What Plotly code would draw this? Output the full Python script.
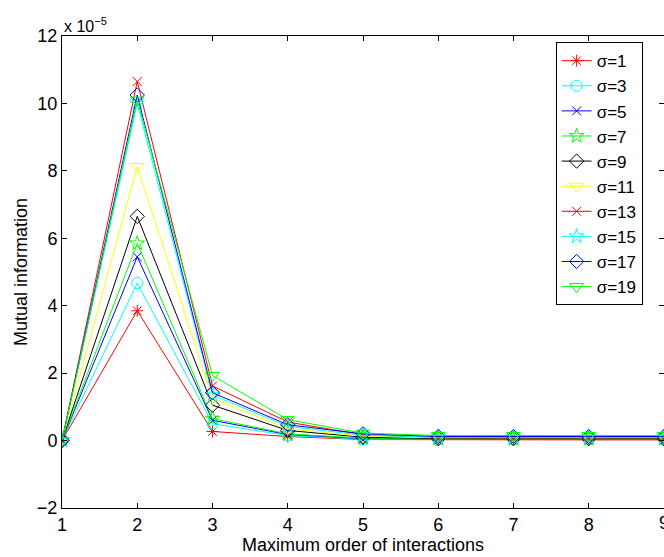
import plotly.graph_objects as go

orders = [1, 2, 3, 4, 5, 6, 7, 8, 9]
tick_labels = ["1", "2", "3", "4", "5", "6", "7", "8", "9"]
sigma_labels = ["σ=1", "σ=3", "σ=5", "σ=7", "σ=9", "σ=11", "σ=13", "σ=15", "σ=17", "σ=19"]

# Mutual information values (units of 1e-5)
mi_s1  = [0.0, 3.85, 0.27, 0.12, 0.03, 0.02, 0.02, 0.02, 0.02]
mi_s3  = [0.0, 4.67, 0.50, 0.15, 0.04, 0.03, 0.03, 0.03, 0.03]
mi_s5  = [0.0, 5.45, 0.60, 0.18, 0.06, 0.04, 0.04, 0.04, 0.04]
mi_s7  = [0.0, 5.85, 0.65, 0.20, 0.07, 0.05, 0.05, 0.05, 0.05]
mi_s9  = [0.0, 6.65, 1.05, 0.30, 0.10, 0.06, 0.06, 0.06, 0.06]
mi_s11 = [0.0, 8.13, 1.25, 0.35, 0.13, 0.08, 0.08, 0.08, 0.08]
mi_s13 = [0.0, 10.65, 1.62, 0.55, 0.17, 0.10, 0.10, 0.10, 0.10]
mi_s15 = [0.0, 10.00, 1.35, 0.42, 0.16, 0.10, 0.10, 0.10, 0.10]
mi_s17 = [0.0, 10.25, 1.42, 0.47, 0.20, 0.12, 0.12, 0.12, 0.12]
mi_s19 = [0.0, 10.10, 1.93, 0.62, 0.22, 0.15, 0.15, 0.15, 0.15]

series = [mi_s1, mi_s3, mi_s5, mi_s7, mi_s9, mi_s11, mi_s13, mi_s15, mi_s17, mi_s19]
colors = ["#FF0000", "#00FFFF", "#0000FF", "#00FF00", "#000000",
          "#FFFF00", "#FF0000", "#00FFFF", "#0000FF", "#00FF00"]
symbols = ["asterisk-open", "circle-open", "x-thin-open", "star-open", "diamond-open",
           "triangle-down-open", "x-thin-open", "star-open", "diamond-open", "triangle-down-open"]
sizes = [10, 11, 9, 11, 11, 12, 9, 11, 11, 12]

FONT = "Liberation Sans, Arial, sans-serif"

fig = go.Figure()
for name, ys, c, s, sz in zip(sigma_labels, series, colors, symbols, sizes):
    fig.add_trace(go.Scatter(
        x=orders, y=ys, name=name, mode="lines+markers",
        line=dict(color=c, width=1),
        marker=dict(symbol=s, size=sz, color=c, line=dict(color=c, width=1)),
    ))

axis_common = dict(
    showline=True, linecolor="black", linewidth=1, mirror="ticks",
    ticks="inside", ticklen=5, tickcolor="black",
    showgrid=False, zeroline=False,
    tickfont=dict(family=FONT, size=18, color="black"),
)

annotations = [dict(text="x 10<sup>−5</sup>", xref="paper", yref="paper",
                    x=0, y=1, xanchor="left", yanchor="bottom", showarrow=False,
                    font=dict(family=FONT, size=16, color="black"), yshift=-1)]
# last x tick label sits on the window edge; draw it as text so it is not dropped
annotations.append(dict(text=tick_labels[-1], xref="x", yref="paper",
                        x=orders[-1], y=0, xanchor="center", yanchor="top",
                        showarrow=False, yshift=-3,
                        font=dict(family=FONT, size=18, color="black")))

fig.update_layout(
    width=664, height=557,
    margin=dict(l=62, r=0, t=36, b=49),
    paper_bgcolor="white", plot_bgcolor="white",
    font=dict(family=FONT, color="black"),
    xaxis=dict(range=[1, 9], tickvals=orders[:-1], ticktext=tick_labels[:-1],
               title=dict(text="Maximum order of interactions", font=dict(size=18), standoff=0),
               **axis_common),
    yaxis=dict(range=[-2, 12], dtick=2, tick0=0,
               title=dict(text="Mutual information", font=dict(size=18), standoff=4),
               **axis_common),
    legend=dict(x=0.82, y=0.987, xanchor="left", yanchor="top",
                bgcolor="white", bordercolor="black", borderwidth=1,
                font=dict(family=FONT, size=17), tracegroupgap=0, itemwidth=30),
    showlegend=True,
    annotations=annotations,
)

fig.write_html("out.html")
